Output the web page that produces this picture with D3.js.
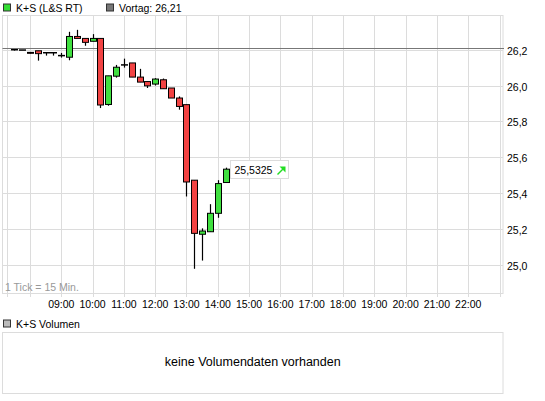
<!DOCTYPE html>
<html lang="de">
<head>
<meta charset="UTF-8">
<title>K+S (L&S RT)</title>
<script src="https://d3js.org/d3.v7.min.js"></script>
<style>
  body { margin: 0; padding: 0; background: #fff; }
  svg text { font-family: "Liberation Sans", Arial, sans-serif; font-size: 10.5px; fill: #000; }
</style>
</head>
<body>
<svg id="chart" width="545" height="401"></svg>
<script>
// 15-minute candles, K+S on L&S
const times = ["07:30","07:45","08:00","08:15","08:30","08:45","09:00","09:15","09:30","09:45",
  "10:00","10:15","10:30","10:45","11:00","11:15","11:30","11:45","12:00","12:15",
  "12:30","12:45","13:00","13:15","13:30","13:45","14:00","14:15"];
const open  = [26.200,26.198,26.185,26.194,26.183,26.183,26.167,26.158,26.274,26.263,
  26.247,26.263,25.894,26.052,26.115,26.126,26.047,26.022,26.008,26.032,
  25.986,25.930,25.893,25.471,25.169,25.183,25.286,25.458];
const high  = [26.204,26.198,26.185,26.194,26.183,26.183,26.182,26.300,26.311,26.263,
  26.287,26.263,26.054,26.115,26.150,26.126,26.093,26.022,26.041,26.039,
  25.986,25.939,25.893,25.471,25.202,25.337,25.471,25.541];
const low   = [26.195,26.198,26.178,26.139,26.167,26.167,26.156,26.141,26.263,26.222,
  26.247,25.874,25.887,26.044,26.100,26.047,26.019,25.986,26.000,25.982,
  25.930,25.865,25.380,24.976,25.022,25.183,25.261,25.458];
const close = [26.200,26.198,26.180,26.178,26.183,26.183,26.167,26.274,26.263,26.241,
  26.263,25.891,26.054,26.102,26.115,26.047,26.019,25.998,26.036,25.982,
  25.930,25.883,25.461,25.174,25.187,25.286,25.452,25.5325];

const prevClose = 26.21;
const yTicks = [25.0, 25.2, 25.4, 25.6, 25.8, 26.0, 26.2];
const hourLabels = ["09:00","10:00","11:00","12:00","13:00","14:00","15:00","16:00",
  "17:00","18:00","19:00","20:00","21:00","22:00"];
const gridHours = ["08:00"].concat(hourLabels, ["23:00"]);

const svg = d3.select("#chart");
const fmt = d3.format(".1f");
const de = s => s.replace(".", ",");
const parseT = d3.timeParse("%H:%M");

const pLeft = 2.5, pRight = 503, pTop = 15.5, pBottom = 293.5;

const x = d3.scaleTime()
  .domain([parseT("07:15"), parseT("23:00")])
  .range([6.5, 499.5]);
const y = d3.scaleLinear().domain([25, 26]).range([264.5, 85.5]);

// grid
const grid = svg.append("g").attr("stroke", "#dcdcdc").attr("stroke-width", 1);
grid.selectAll("line.v")
  .data([parseT("07:15")].concat(gridHours.map(parseT)))
  .join("line")
  .attr("x1", d => Math.round(x(d)) + 0.5).attr("x2", d => Math.round(x(d)) + 0.5)
  .attr("y1", pTop).attr("y2", pBottom + 3.5);
grid.selectAll("line.h")
  .data(yTicks)
  .join("line")
  .attr("x1", pLeft).attr("x2", pRight)
  .attr("y1", d => Math.round(y(d)) + 0.5).attr("y2", d => Math.round(y(d)) + 0.5);
svg.append("rect")
  .attr("x", pLeft).attr("y", pTop)
  .attr("width", pRight - pLeft).attr("height", pBottom - pTop)
  .attr("fill", "none").attr("stroke", "#dcdcdc");

// previous close line
svg.append("line")
  .attr("x1", pLeft).attr("x2", pRight + 1)
  .attr("y1", Math.round(y(prevClose)) + 0.5).attr("y2", Math.round(y(prevClose)) + 0.5)
  .attr("stroke", "#777");

// y labels
svg.selectAll("text.ylab")
  .data(yTicks)
  .join("text")
  .attr("x", 507)
  .attr("y", d => y(d) + 5)
  .text(d => de(fmt(d)));

// x labels
svg.selectAll("text.xlab")
  .data(hourLabels)
  .join("text")
  .attr("x", d => x(parseT(d)))
  .attr("y", 308)
  .attr("text-anchor", "middle")
  .text(d => d);

svg.append("text")
  .attr("x", 5).attr("y", 291)
  .style("fill", "#999")
  .text("1 Tick = 15 Min.");

// candles
const candles = times.map((t, i) => ({
  t: parseT(t), o: open[i], h: high[i], l: low[i], c: close[i]
}));
const cg = svg.append("g");
candles.forEach(d => {
  const cx = Math.round(x(d.t)) + 0.5;
  const yTop = y(Math.max(d.o, d.c)), yBot = y(Math.min(d.o, d.c));
  cg.append("line")
    .attr("x1", cx).attr("x2", cx)
    .attr("y1", y(d.h)).attr("y2", y(d.l))
    .attr("stroke", "#000").attr("stroke-width", 1.2);
  if (Math.abs(d.o - d.c) < 0.0005) {
    cg.append("line")
      .attr("x1", cx - 3.5).attr("x2", cx + 3.5)
      .attr("y1", yTop).attr("y2", yTop)
      .attr("stroke", "#000").attr("stroke-width", 1.5);
  } else {
    cg.append("rect")
      .attr("x", cx - 3).attr("width", 6)
      .attr("y", yTop).attr("height", Math.max(yBot - yTop, 0.5))
      .attr("fill", d.c >= d.o ? "#40e040" : "#f24343")
      .attr("stroke", "#000").attr("stroke-width", 1);
  }
});

// last price tag
const last = candles[candles.length - 1];
const tagX = Math.round(x(last.t)) + 4.5;
const tagY = Math.round(y(last.c)) - 8.5;
svg.append("rect")
  .attr("x", tagX).attr("y", tagY)
  .attr("width", 58).attr("height", 18)
  .attr("fill", "#fff").attr("stroke", "#dcdcdc");
svg.append("text")
  .attr("x", tagX + 4).attr("y", tagY + 13.5)
  .text(de(String(last.c)));
svg.append("path")
  .attr("d", `M${tagX + 47},${tagY + 14} L${tagX + 53},${tagY + 8}`)
  .attr("stroke", "#22dd22").attr("stroke-width", 1.5);
svg.append("path")
  .attr("d", `M${tagX + 49},${tagY + 6} L${tagX + 55},${tagY + 6} L${tagX + 55},${tagY + 12} Z`)
  .attr("fill", "#22dd22");

// legends
function legend(xp, yp, color, label) {
  svg.append("rect")
    .attr("x", xp + 0.5).attr("y", yp + 0.5)
    .attr("width", 7).attr("height", 7)
    .attr("fill", color).attr("stroke", "#333");
  svg.append("text").attr("x", xp + 13).attr("y", yp + 8).text(label);
}
legend(3, 3.5, "#33dd33", "K+S (L&S RT)");
legend(106, 3.5, "#777", "Vortag: " + de(String(prevClose)));
legend(3, 319.5, "#bbb", "K+S Volumen");

// volume panel
svg.append("rect")
  .attr("x", pLeft).attr("y", 332.5)
  .attr("width", pRight - pLeft).attr("height", 61)
  .attr("fill", "none").attr("stroke", "#dcdcdc");
svg.append("text")
  .attr("x", (pLeft + pRight) / 2).attr("y", 366)
  .attr("text-anchor", "middle")
  .style("font-size", "12.5px")
  .text("keine Volumendaten vorhanden");
</script>
</body>
</html>
